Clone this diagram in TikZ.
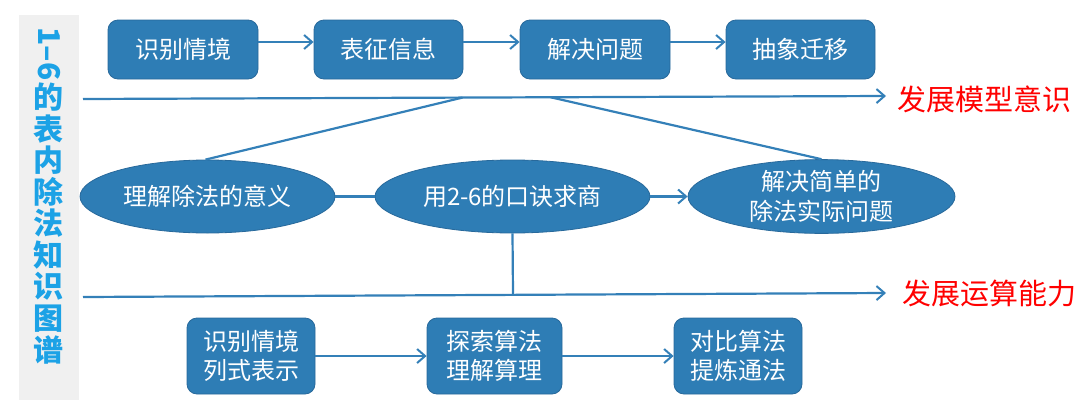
\documentclass[tikz,border=0pt]{standalone}
\usepackage{fontspec}
\setmainfont{Noto Sans CJK SC}
\usetikzlibrary{arrows.meta,shapes.geometric,calc}
\definecolor{boxblue}{RGB}{46,125,181}
\definecolor{boxedge}{RGB}{40,105,155}
\definecolor{lineblue}{RGB}{52,128,184}
\definecolor{titlecyan}{RGB}{28,162,230}
\definecolor{stripgray}{RGB}{240,240,240}
\definecolor{labelred}{RGB}{255,0,0}
\begin{document}
\begin{tikzpicture}[x=1pt,y=-1pt,
  stepbox/.style={draw=boxedge,line width=0.8pt,fill=boxblue,rounded corners=10pt,text=white,
    font=\fontsize{24}{29}\selectfont,align=center,inner sep=0pt,minimum height=59pt},
  lowbox/.style={stepbox,minimum height=76pt},
  oval/.style={ellipse,draw=boxedge,line width=0.8pt,fill=boxblue,text=white,
    font=\fontsize{24}{30}\selectfont,align=center,inner sep=0pt,minimum height=73pt},
  conn/.style={draw=lineblue,line width=2.2pt},
  arr/.style={conn,-{Straight Barb[length=8pt,width=14pt,line width=2pt]}},
  goal/.style={text=labelred,font=\fontsize{29}{34}\selectfont,anchor=west,inner sep=0pt},
  titlech/.style={text=titlecyan,font=\bfseries\fontsize{30}{32}\selectfont,inner sep=0pt}
]
\useasboundingbox (0,0) rectangle (1080,402);
\fill[stripgray] (19,15) rectangle (79,400);

% title strip
\node[titlech,rotate=-90] (t0) at (49,54) {1–6};
\foreach \ch [count=\i] in {的,表,内,除,法,知,识,图,谱}{
  \node[titlech] (t\i) at (49,{97+31.6*(\i-1)}) {\ch};
}

% top row
\node[stepbox,minimum width=150pt] (b1) at (183,49.5) {识别情境};
\node[stepbox,minimum width=149pt] (b2) at (388.5,49.5) {表征信息};
\node[stepbox,minimum width=150pt] (b3) at (595,49.5) {解决问题};
\node[stepbox,minimum width=149pt] (b4) at (800.5,49.5) {抽象迁移};
\draw[arr] (b1.east |- 0,42) -- (b2.west |- 0,42);
\draw[arr] (b2.east |- 0,42) -- (b3.west |- 0,42);
\draw[arr] (b3.east |- 0,42) -- (b4.west |- 0,42);

% ellipses
\node[oval,minimum width=255pt] (e1) at (207.5,196.5) {理解除法的意义};
\node[oval,minimum width=275pt] (e2) at (512.5,196.5) {用2-6的口诀求商};
\node[oval,minimum width=267pt] (e3) at (821.5,196.5) {解决简单的\\除法实际问题};
\draw[conn] (e1.east) -- (e2.west);
\draw[arr] (e2.east) -- (e3.west);

% axis 1
\coordinate (L1s) at (83,99);
\coordinate (L1e) at (886,96);
\draw[arr] (L1s) -- (L1e);
\node[goal] (g1) at (897,99) {发展模型意识};
\coordinate (d1) at ($(L1s)!0.4726!(L1e)$);
\coordinate (d2) at ($(L1s)!0.5823!(L1e)$);
\draw[conn] (d1) -- ([xshift=-2pt]e1.north);
\draw[conn] (d2) -- (e3.north);

% axis 2
\coordinate (L2s) at (83,297);
\coordinate (L2e) at (886,293);
\draw[arr] (L2s) -- (L2e);
\node[goal] (g2) at (902,293) {发展运算能力};
\coordinate (m2) at ($(L2s)!0.5355!(L2e)$);
\draw[conn] (e2.south) -- (m2);

% bottom row
\node[lowbox,minimum width=128pt] (c1) at (251,356) {识别情境\\列式表示};
\node[lowbox,minimum width=135pt] (c2) at (494.5,356) {探索算法\\理解算理};
\node[lowbox,minimum width=128pt] (c3) at (738,356) {对比算法\\提炼通法};
\draw[arr] (c1) -- (c2);
\draw[arr] (c2) -- (c3);
\end{tikzpicture}
\end{document}
